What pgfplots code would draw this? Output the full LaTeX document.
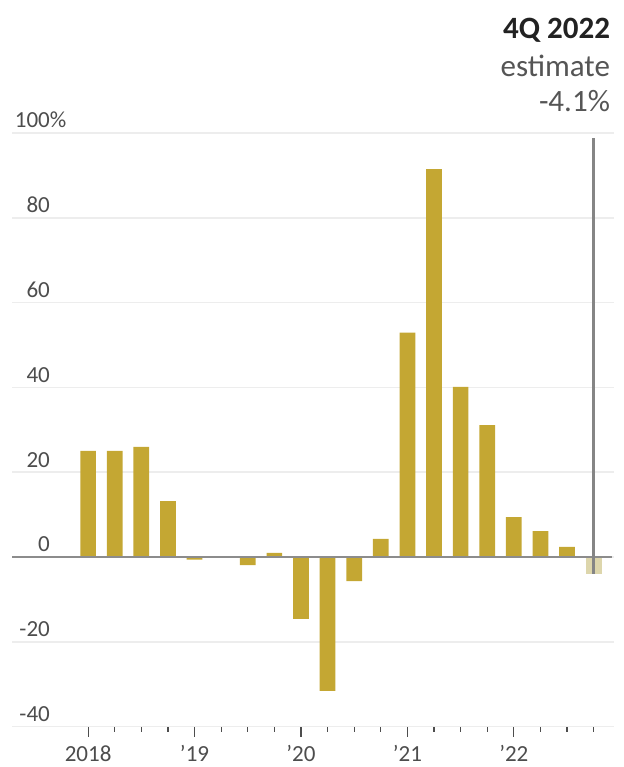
\documentclass[border=0pt]{standalone}
\usepackage{fontspec}
\setmainfont{Carlito}
\usepackage{pgfplots}
\pgfplotsset{compat=1.18}
\definecolor{bargold}{HTML}{C4A733}
\definecolor{estgold}{HTML}{DDD6AC}
\definecolor{gridgray}{HTML}{EDEDED}
\definecolor{zerogray}{HTML}{8C8C8C}
\definecolor{vlinegray}{HTML}{858585}
\definecolor{labelgray}{HTML}{4D4D4D}
\definecolor{titlegray}{HTML}{222222}
\definecolor{subgray}{HTML}{555555}

\begin{document}
\begin{tikzpicture}
\begin{axis}[
    scale only axis,
    width=601bp, height=593bp,
    xmin=-2.859, xmax=19.75,
    ymin=-40, ymax=100,
    clip=false,
    axis line style={draw=none},
    ytick={-40,-20,0,20,40,60,80,100},
    yticklabels={-40,-20,0,20,40,60,80,100\rlap{\%}},
    ymajorgrids,
    major grid style={gridgray, line width=1.5bp},
    ytick style={draw=none},
    xtick={0,4,8,12,16},
    xticklabels={2018,’19,’20,’21,’22},
    minor xtick={0,...,19},
    xtick pos=bottom,
    tick align=outside,
    xtick style={labelgray, line width=1.2bp},
    minor x tick style={labelgray, line width=1.2bp},
    major tick length=10bp, minor tick length=5bp,
    tick label style={font=\fontsize{23bp}{23bp}\selectfont, text=labelgray},
    yticklabel style={anchor=base east, inner sep=0pt, xshift=48bp, yshift=5bp},
    xticklabel style={anchor=base, inner sep=0pt, yshift=-25bp},
]

% quarterly change, 1Q 2018 .. 3Q 2022
\addplot[ybar, bar shift=0pt, bar width=0.59, fill=bargold, draw=none] coordinates {
    (0,25.0) (1,25.0) (2,26.0) (3,13.2)
    (4,-0.6) (5,0) (6,-1.9) (7,1.0)
    (8,-14.6) (9,-31.6) (10,-5.7) (11,4.3)
    (12,52.9) (13,91.5) (14,40.1) (15,31.1)
    (16,9.4) (17,6.1) (18,2.4)
};
% 4Q 2022 estimate
\addplot[ybar, bar shift=0pt, bar width=0.59, fill=estgold, draw=none] coordinates {
    (19,-4.1)
};

\draw[zerogray, line width=2.8bp] (axis cs:-2.859,0) -- (axis cs:19.70,0);
\draw[vlinegray, line width=2.6bp] (axis cs:19,98.8) -- (axis cs:19,-3.9);

\node[anchor=base east, inner sep=0pt, font=\fontsize{31bp}{31bp}\selectfont\bfseries, text=titlegray]
    at (axis cs:19.62,122.3) {4Q 2022};
\node[anchor=base east, inner sep=0pt, font=\fontsize{31bp}{31bp}\selectfont, text=subgray]
    at (axis cs:19.62,113.3) {estimate};
\node[anchor=base east, inner sep=0pt, font=\fontsize{31bp}{31bp}\selectfont, text=subgray]
    at (axis cs:19.62,105.0) {-4.1\%};

\path (axis cs:-3.311,-49.53) rectangle (axis cs:19.752,131.37);
\end{axis}
\end{tikzpicture}
\end{document}
